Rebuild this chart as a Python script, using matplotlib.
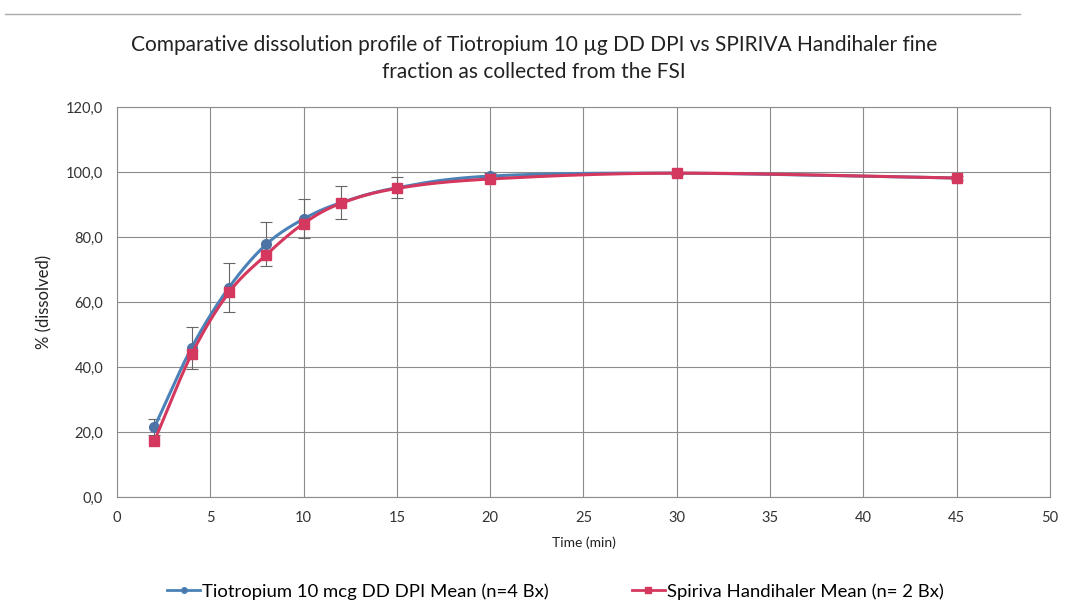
"""
Dissolution profile chart: Tiotropium DD DPI vs SPIRIVA Handihaler
"""
import numpy as np
import matplotlib
matplotlib.use('Agg')
import matplotlib.pyplot as plt
from matplotlib.lines import Line2D

plt.rcParams['font.family'] = ['Lato', 'DejaVu Sans']

# Data
time_min = [2, 4, 6, 8, 10, 12, 15, 20, 30, 45]
tio_mean = [21.5, 46.0, 64.5, 77.8, 85.6, 90.6, 95.2, 98.8, 99.7, 98.2]
tio_err = [2.5, 6.5, 7.5, 6.8, 6.0, 5.0, 3.2, 1.0, 0.5, 0.5]
spi_mean = [17.3, 44.0, 63.0, 74.6, 84.2, 90.4, 95.0, 97.9, 99.7, 98.2]

y_ticks = [0, 20, 40, 60, 80, 100, 120]
x_ticks = [0, 5, 10, 15, 20, 25, 30, 35, 40, 45, 50]

BLUE = '#4A82B8'
BLUE_MK = '#4E74A6'
RED = '#D5385E'


def smooth(x, y, n=30):
    """Catmull-Rom curve through the points (like Excel's smoothed line)."""
    x = np.asarray(x, float)
    y = np.asarray(y, float)
    px = np.concatenate([[2 * x[0] - x[1]], x, [2 * x[-1] - x[-2]]])
    py = np.concatenate([[2 * y[0] - y[1]], y, [2 * y[-1] - y[-2]]])
    xs, ys = [], []
    t = np.linspace(0, 1, n)
    for i in range(1, len(px) - 2):
        for p, out in ((px, xs), (py, ys)):
            p0, p1, p2, p3 = p[i - 1], p[i], p[i + 1], p[i + 2]
            out.extend(0.5 * ((2 * p1) + (-p0 + p2) * t
                              + (2 * p0 - 5 * p1 + 4 * p2 - p3) * t ** 2
                              + (-p0 + 3 * p1 - 3 * p2 + p3) * t ** 3))
    return np.array(xs), np.array(ys)


fig = plt.figure(figsize=(10.68, 6.16), dpi=100)
ax = fig.add_axes([0.1096, 0.193, 0.8734, 0.633])

# error bars (blue series)
ax.errorbar(time_min, tio_mean, yerr=tio_err, fmt='none', ecolor='#666666',
            elinewidth=0.8, capsize=4, capthick=0.8, zorder=2)

sx, sy = smooth(time_min, tio_mean)
ax.plot(sx, sy, color=BLUE, linewidth=2.2, zorder=3)
ax.plot(time_min, tio_mean, 'o', color=BLUE_MK, markersize=7, zorder=4)

sx, sy = smooth(time_min, spi_mean)
ax.plot(sx, sy, color=RED, linewidth=2.2, zorder=5)
ax.plot(time_min, spi_mean, 's', color=RED, markersize=6.5, zorder=6)

ax.set_xlim(0, 50)
ax.set_ylim(0, 120)
ax.set_xticks(x_ticks)
ax.set_yticks(y_ticks)
ax.set_yticklabels([f'{v:.1f}'.replace('.', ',') for v in y_ticks])
ax.tick_params(length=0, labelsize=10.5, colors='#333333', pad=10)
ax.grid(True, color='#8c8c8c', linewidth=0.8)
ax.set_axisbelow(True)
for s in ax.spines.values():
    s.set_color('#8c8c8c')
    s.set_linewidth(0.8)

ax.set_xlabel('Time (min)', fontsize=10, color='#222222', labelpad=8)
ax.set_ylabel('% (dissolved)', fontsize=12, color='#222222', labelpad=10)

fig.text(0.5, 0.905, 'Comparative dissolution profile of Tiotropium 10 \u00b5g DD DPI vs SPIRIVA Handihaler fine\n'
         'fraction as collected from the FSI', ha='center', va='center',
         fontsize=15, color='#222222', linespacing=1.45)

# thin frame line at the top (part of the scanned page)
fig.add_artist(Line2D([0.005, 0.955], [0.977, 0.977], color='#aaaaaa', linewidth=1.0))

handles = [Line2D([], [], color=BLUE, marker='o', markerfacecolor=BLUE_MK, markersize=4, linewidth=2),
           Line2D([], [], color=RED, marker='s', markersize=4, linewidth=2)]
fig.legend(handles, ['Tiotropium 10 mcg DD DPI Mean (n=4 Bx)', 'Spiriva Handihaler Mean (n= 2 Bx)'],
           loc='center', bbox_to_anchor=(0.52, 0.04), ncol=2, frameon=False,
           fontsize=13.3, handlelength=1.8, handletextpad=0.1, columnspacing=4.5)

fig.savefig('out.png', dpi=100)
